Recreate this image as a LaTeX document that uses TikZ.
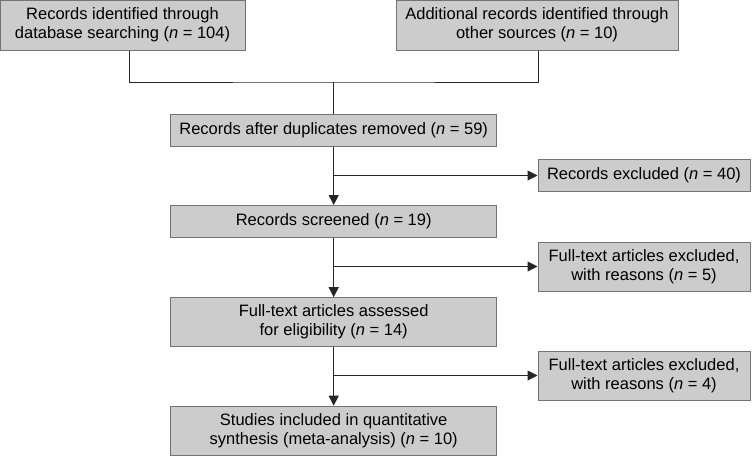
\documentclass[tikz,border=0pt]{standalone}
\usepackage{fontspec}
\setmainfont{Liberation Sans}
\usetikzlibrary{arrows.meta}

\begin{document}
\begin{tikzpicture}[x=1pt, y=-1pt,
  box/.style={draw=black!55, fill=gray!40, line width=1pt, align=center, inner sep=0pt, minimum width=326pt, font=\fontsize{16.5}{19}\selectfont},
  sidebox/.style={box, minimum width=212pt},
  link/.style={draw=black!85, line width=1pt},
  arr/.style={link, -{Triangle[length=10pt, width=10pt]}}]
\useasboundingbox (0,0) rectangle (752,456);
% sources
\node[box, minimum width=245pt, minimum height=50pt] (db) at (122.5,25) {Records identified through\\database searching (\textit{n} = 104)};
\node[box, minimum width=282pt, minimum height=50pt] (other) at (537,25) {Additional records identified through\\other sources (\textit{n} = 10)};
% main column
\node[box, minimum height=32pt] (dup) at (333.7,130) {Records after duplicates removed (\textit{n} = 59)};
\node[box, minimum height=32pt] (scr) at (333.7,221.5) {Records screened (\textit{n} = 19)};
\node[box, minimum height=49pt] (full) at (333.7,322.2) {Full-text articles assessed\\for eligibility (\textit{n} = 14)};
\node[box, minimum height=49pt] (incl) at (333.7,430.7) {Studies included in quantitative\\synthesis (meta-analysis) (\textit{n} = 10)};
% exclusions
\node[sidebox, minimum height=32pt] (exc1) at (644,175.5) {Records excluded (\textit{n} = 40)};
\node[sidebox, minimum height=49pt] (exc2) at (644,266.5) {Full-text articles excluded,\\with reasons (\textit{n} = 5)};
\node[sidebox, minimum height=49pt] (exc3) at (644,375.5) {Full-text articles excluded,\\with reasons (\textit{n} = 4)};
% joining the sources
\coordinate (jn) at (333.7,82);
\draw[link] ([xshift=6.5pt]db.south) |- (jn) -| ([xshift=1pt]other.south);
\draw[link] (jn) -- (dup.north);
% flow
\draw[arr] (dup.south) -- (scr.north);
\draw[arr] (scr.south) -- (full.north);
\draw[arr] (full.south) -- (incl.north);
\draw[arr] (dup.south |- exc1.west) -- (exc1.west);
\draw[arr] (scr.south |- exc2.west) -- (exc2.west);
\draw[arr] (full.south |- exc3.west) -- (exc3.west);
\end{tikzpicture}
\end{document}
